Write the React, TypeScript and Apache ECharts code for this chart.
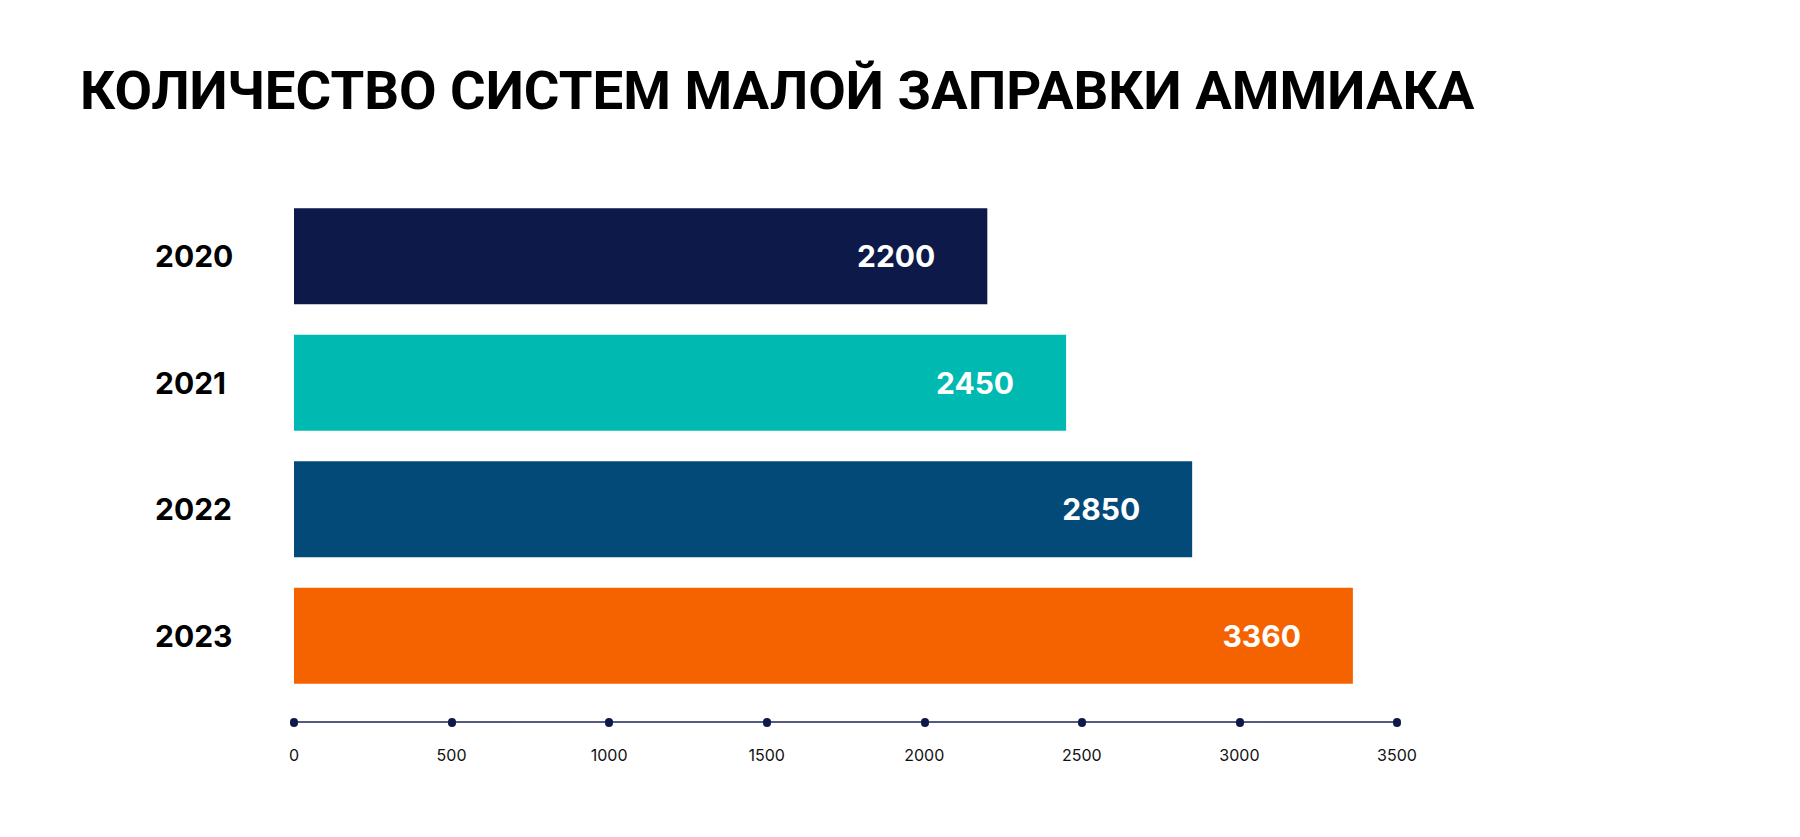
import React, { useEffect, useRef } from "react";
import * as echarts from "echarts";

const titleText = "КОЛИЧЕСТВО СИСТЕМ МАЛОЙ ЗАПРАВКИ АММИАКА";
const years = ["2020", "2021", "2022", "2023"];
const counts = [2200, 2450, 2850, 3360];
const barColors = ["#0d1948", "#00bab2", "#034a79", "#f56300"];
const axisMax = 3500;
const axisStep = 500;

export default function App() {
  const ref = useRef<HTMLDivElement>(null);
  useEffect(() => {
    if (!ref.current) return;
    const chart = echarts.init(ref.current, undefined, { renderer: "svg" });
    chart.setOption({
      animation: false,
      backgroundColor: "#ffffff",
      title: {
        text: titleText,
        left: 75,
        top: 57,
        textStyle: {
          fontFamily: "Roboto",
          fontWeight: 700,
          fontSize: 54.5,
          color: "#000000",
        },
      },
      grid: { left: 294, right: 403, top: 193, bottom: 138 },
      xAxis: {
        type: "value",
        min: 0,
        max: axisMax,
        interval: axisStep,
        offset: 23,
        splitLine: { show: false },
        axisLine: { show: true, lineStyle: { color: "#1b2550", width: 1.5 } },
        axisTick: {
          show: true,
          length: 1,
          lineStyle: { color: "#0d1948", width: 8, cap: "round" },
        },
        axisLabel: {
          margin: 25,
          fontFamily: "Inter",
          fontSize: 16,
          color: "#111111",
          formatter: (v: number) => String(v),
        },
      },
      yAxis: {
        type: "category",
        inverse: true,
        data: years,
        axisLine: { show: false },
        axisTick: { show: false },
        axisLabel: {
          align: "left",
          margin: 139,
          fontFamily: "Inter",
          fontWeight: 700,
          fontSize: 30,
          color: "#000000",
        },
      },
      series: [
        {
          type: "bar",
          barWidth: 96,
          data: counts.map((v, i) => ({ value: v, itemStyle: { color: barColors[i] } })),
          label: {
            show: true,
            position: "insideRight",
            distance: 52,
            fontFamily: "Inter",
            fontWeight: 700,
            fontSize: 30,
            color: "#ffffff",
          },
        },
      ],
    });
    return () => chart.dispose();
  }, []);
  return (
    <div
      ref={ref}
      style={{ position: "fixed", left: 0, top: 0, width: 1800, height: 837 }}
    />
  );
}
